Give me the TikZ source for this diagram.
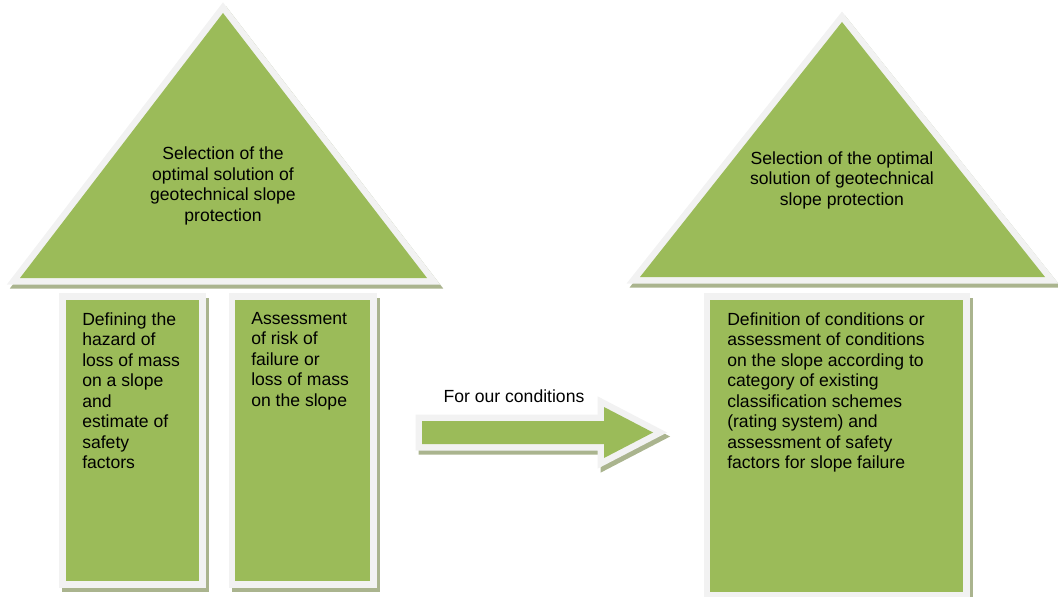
\documentclass[tikz,border=0pt]{standalone}
\usepackage{fontspec}
\setmainfont{Liberation Sans}
\usepackage{tikz}
\definecolor{leaf}{HTML}{9BBB59}
\definecolor{rim}{HTML}{F2F2F2}
\definecolor{shade}{RGB}{170,180,142}
\newcommand{\blocktext}{\fontsize{12.5pt}{14.6pt}\selectfont}

\begin{document}
\begin{tikzpicture}[x=0.025cm, y=-0.025cm,
    block/.style={fill=leaf,
      preaction={draw=shade, fill=shade, line width=0.325cm, line join=miter,
        transform canvas={xshift=0.075cm, yshift=-0.1cm}},
      preaction={draw=rim, line width=0.325cm, line join=miter}}]
  \tikzstyle{every node}+=[inner sep=0pt, font=\blocktext]
  \useasboundingbox (0,0) rectangle (1058,597);
  % left roof and its two pillars
  \fill[block] (223,13) -- (427,278) -- (20,278) -- cycle;
  \fill[block] (66,300) rectangle (199,581);
  \fill[block] (235,300) rectangle (370,581);
  % right roof and the single pillar
  \fill[block] (842,22) -- (1045,277) -- (640,277) -- cycle;
  \fill[block] (710,300) rectangle (963,592);
  % arrow in between
  \fill[block] (422,421) -- (604,421) -- (604,407) -- (653,432.5)
    -- (604,458) -- (604,444) -- (422,444) -- cycle;

  \node[align=center] (goalA) at (223,186)
    {Selection of the\\optimal solution of\\geotechnical slope\\protection};
  \node[align=left, anchor=north west] (hazard) at (82,312)
    {Defining the\\hazard of\\loss of mass\\on a slope\\and\\estimate of\\safety\\factors};
  \node[align=left, anchor=north west] (risk) at (251,312)
    {Assessment\\of risk of\\failure or\\loss of mass\\on the slope};
  \node[anchor=base] (ours) at (514,402) {For our conditions};
  \node[align=center] (goalB) at (842,180)
    {Selection of the optimal\\solution of geotechnical\\slope protection};
  \node[align=left, anchor=north west] (rating) at (727,312)
    {Definition of conditions or\\assessment of conditions\\on the slope according to\\category of existing\\classification schemes\\(rating system) and\\assessment of safety\\factors for slope failure};
\end{tikzpicture}
\end{document}
